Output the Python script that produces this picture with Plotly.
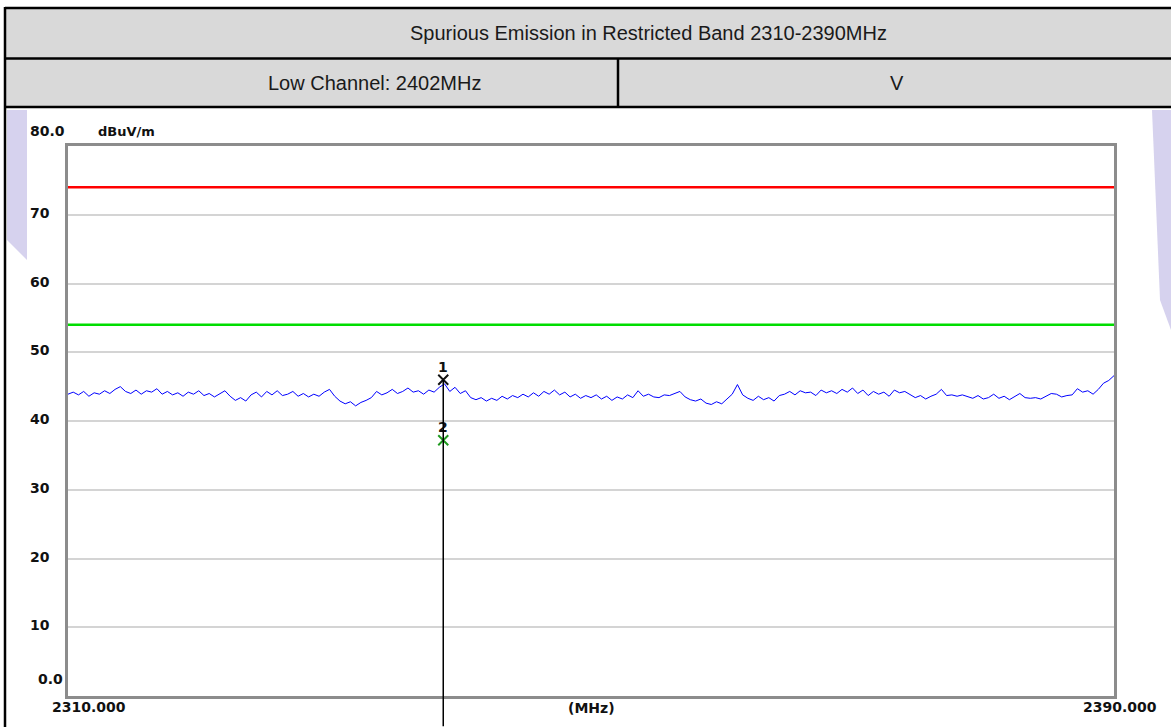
import plotly.graph_objects as go

# ---------------- data ----------------
title_text = "Spurious Emission in Restricted Band 2310-2390MHz"
channel_text = "Low Channel: 2402MHz"
polarity_text = "V"
y_unit = "dBuV/m"
x_unit = "(MHz)"

freq_start = 2310.0
freq_step = 0.4
trace_level = [
    43.9, 44.2, 43.8, 44.3, 43.6, 44.1, 43.9, 44.4, 44.0, 44.6,
    45.0, 44.3, 44.0, 44.5, 43.9, 44.4, 44.2, 44.7, 43.9, 44.3,
    43.8, 44.1, 43.6, 44.2, 43.9, 44.4, 43.7, 44.0, 43.5, 43.9,
    44.4, 43.6, 43.0, 43.4, 42.9, 43.8, 44.2, 43.5, 44.3, 43.8,
    44.4, 43.7, 43.9, 44.3, 43.6, 44.0, 43.5, 43.9, 43.6, 44.2,
    44.6, 43.6, 42.9, 42.5, 42.8, 42.2, 42.7, 43.0, 43.4, 44.3,
    43.8, 44.1, 44.6, 44.0, 44.3, 44.8, 44.2, 44.4, 43.9, 44.5,
    44.2, 44.9, 45.4, 44.3, 44.9, 44.0, 44.4, 43.4, 43.1, 43.4,
    42.9, 43.3, 43.0, 43.6, 43.2, 43.7, 43.4, 43.9, 43.5, 44.1,
    43.6, 44.3, 43.9, 44.5, 43.8, 44.2, 43.5, 43.9, 43.3, 43.7,
    43.4, 43.8, 43.2, 43.6, 43.0, 43.5, 43.2, 43.8, 43.4, 44.4,
    43.6, 43.9, 43.5, 43.4, 43.8, 43.7, 44.0, 44.3, 43.5, 43.1,
    42.9, 43.2, 42.6, 42.4, 42.8, 42.5, 43.2, 43.9, 45.3, 43.8,
    43.3, 43.0, 43.6, 43.1, 43.4, 42.9, 43.7, 43.9, 44.3, 43.8,
    44.4, 44.1, 44.2, 43.7, 44.5, 44.1, 44.4, 44.0, 44.6, 44.2,
    44.8, 44.0, 44.5, 43.7, 44.3, 43.9, 44.2, 43.6, 44.5, 44.1,
    44.3, 43.8, 43.4, 43.7, 43.2, 43.6, 43.9, 44.6, 43.7, 43.8,
    43.6, 43.8, 43.5, 43.3, 43.7, 43.2, 43.4, 43.9, 43.3, 43.6,
    43.1, 43.5, 44.0, 43.4, 43.3, 43.4, 43.2, 43.6, 44.0, 43.9,
    43.5, 43.7, 43.8, 44.7, 44.2, 44.4, 43.9, 44.6, 45.5, 45.9,
    46.6,
]
trace_freq = [freq_start + i * freq_step for i in range(len(trace_level))]

limit_peak = 74.0
limit_avg = 54.0

marker_labels = ["1", "2"]
marker_freq = [2338.7, 2338.7]
marker_level = [46.0, 37.2]
marker_colors = ["#111111", "#1f9a1f"]

y_tick_vals = [80, 70, 60, 50, 40, 30, 20, 10, 0]
y_tick_text = ["80.0", "70", "60", "50", "40", "30", "20", "10", "0.0"]
x_range = [2310.0, 2390.0]
x_tick_text = ["2310.000", "2390.000"]
y_range = [0, 80]

# ---------------- figure ----------------
W, H = 1171, 727
def px(x):
    return x / W
def py(y):
    return (H - y) / H

fig = go.Figure()

fig.add_trace(go.Scatter(x=trace_freq, y=trace_level, mode="lines",
                         line=dict(color="#0000ff", width=1), hoverinfo="skip",
                         showlegend=False))
fig.add_trace(go.Scatter(x=x_range, y=[limit_peak, limit_peak], mode="lines",
                         line=dict(color="#ff0000", width=2.5), showlegend=False))
fig.add_trace(go.Scatter(x=x_range, y=[limit_avg, limit_avg], mode="lines",
                         line=dict(color="#00dd00", width=2.5), showlegend=False))
fig.add_trace(go.Scatter(x=marker_freq, y=marker_level, mode="markers",
                         marker=dict(symbol="x-thin-open", size=10, color=marker_colors,
                                     line=dict(color=marker_colors, width=2)),
                         cliponaxis=False, showlegend=False))

annotations = []
shapes = []

# lavender watermark patches around the screenshot
lav = "#d6d2ee"
shapes.append(dict(type="path", xref="paper", yref="paper",
                   path=f"M {px(7)},{py(110)} L {px(27)},{py(110)} L {px(27)},{py(260)} L {px(7)},{py(240)} Z",
                   fillcolor=lav, line=dict(width=0), layer="below"))
shapes.append(dict(type="path", xref="paper", yref="paper",
                   path=f"M {px(1152)},{py(110)} L {px(1171)},{py(110)} L {px(1171)},{py(330)} L {px(1160)},{py(300)} Z",
                   fillcolor=lav, line=dict(width=0), layer="below"))

# table header
shapes.append(dict(type="rect", xref="paper", yref="paper",
                   x0=px(5), x1=px(1171), y0=py(107), y1=py(8),
                   fillcolor="#d9d9d9", line=dict(width=0), layer="below"))
for yy in [8, 58.5, 107]:
    shapes.append(dict(type="line", xref="paper", yref="paper",
                       x0=px(5), x1=px(1171), y0=py(yy), y1=py(yy),
                       line=dict(color="#000000", width=2.5)))
shapes.append(dict(type="line", xref="paper", yref="paper",
                   x0=px(5), x1=px(5), y0=py(7), y1=py(727),
                   line=dict(color="#000000", width=2.5)))
shapes.append(dict(type="line", xref="paper", yref="paper",
                   x0=px(618), x1=px(618), y0=py(58.5), y1=py(107),
                   line=dict(color="#000000", width=2.5)))

tbl_font = dict(family="Liberation Sans, Arial", size=20, color="#1a1a1a")
annotations.append(dict(text=title_text, xref="paper", yref="paper",
                        x=px(648), y=py(33.5), showarrow=False, font=tbl_font,
                        xanchor="center", yanchor="middle"))
annotations.append(dict(text=channel_text, xref="paper", yref="paper",
                        x=px(374.5), y=py(83), showarrow=False, font=tbl_font,
                        xanchor="center", yanchor="middle"))
annotations.append(dict(text=polarity_text, xref="paper", yref="paper",
                        x=px(897), y=py(83), showarrow=False, font=tbl_font,
                        xanchor="center", yanchor="middle"))

ax_font = dict(family="DejaVu Sans", size=14, color="#111111", weight="bold")

# y tick labels
for i, (v, t) in enumerate(zip(y_tick_vals, y_tick_text)):
    if i == 0:
        annotations.append(dict(text=t, xref="paper", yref="y", x=px(28), y=v,
                                yshift=15, xanchor="left", yanchor="middle",
                                showarrow=False, font=ax_font))
    elif i == len(y_tick_vals) - 1:
        annotations.append(dict(text=t, xref="paper", yref="y", x=px(65), y=v,
                                yshift=17, xanchor="right", yanchor="middle",
                                showarrow=False, font=ax_font))
    else:
        annotations.append(dict(text=t, xref="paper", yref="y", x=px(28), y=v,
                                yshift=2, xanchor="left", yanchor="middle",
                                showarrow=False, font=ax_font))

annotations.append(dict(text=y_unit, xref="paper", yref="paper", x=px(96), y=py(131),
                        xanchor="left", yanchor="middle", showarrow=False,
                        font=dict(family="DejaVu Sans", size=13, color="#111111", weight="bold")))

# x labels
annotations.append(dict(text=x_tick_text[0], xref="x", yref="y", x=x_range[0], y=0,
                        xshift=21, yshift=-1, xanchor="center", yanchor="top",
                        showarrow=False, font=ax_font))
annotations.append(dict(text=x_tick_text[1], xref="x", yref="y", x=x_range[1], y=0,
                        xshift=6, yshift=-1, xanchor="center", yanchor="top",
                        showarrow=False, font=ax_font))
annotations.append(dict(text=x_unit, xref="x", yref="y", x=(x_range[0] + x_range[1]) / 2, y=0,
                        yshift=-2, xanchor="center", yanchor="top",
                        showarrow=False, font=ax_font))

# marker labels
for lab, f, l in zip(marker_labels, marker_freq, marker_level):
    annotations.append(dict(text=lab, xref="x", yref="y", x=f, y=l, yshift=13,
                            xanchor="center", yanchor="middle", showarrow=False,
                            font=dict(family="DejaVu Sans", size=14, color="#111111", weight="bold")))

# marker vertical line (drawn as an arrow without head so it may leave the plot area)
annotations.append(dict(text="", xref="x", yref="y", x=marker_freq[0], y=marker_level[0],
                        axref="x", ayref="y", ax=marker_freq[0], ay=-4.6,
                        showarrow=True, arrowhead=0, arrowwidth=1.5, arrowcolor="#000000",
                        standoff=0, startstandoff=0))

fig.update_layout(
    width=W, height=H,
    margin=dict(l=0, r=0, t=0, b=0),
    paper_bgcolor="#ffffff",
    plot_bgcolor="#ffffff",
    showlegend=False,
    xaxis=dict(domain=[px(68), px(1114)], range=x_range, showgrid=False,
               showticklabels=False, ticks="", zeroline=False,
               showline=True, mirror=True, linecolor="#8c8c8c", linewidth=2.5,
               fixedrange=True),
    yaxis=dict(domain=[py(696), py(146)], range=y_range, tickvals=y_tick_vals,
               showgrid=True, gridcolor="#d4d4d4", gridwidth=1.5,
               showticklabels=False, ticks="", zeroline=False,
               showline=True, mirror=True, linecolor="#8c8c8c", linewidth=2.5,
               fixedrange=True),
    shapes=shapes,
    annotations=annotations,
)

fig.write_html("out.html", config={"displayModeBar": False},
               post_script="document.body.style.margin='0px';document.body.style.padding='0px';")
